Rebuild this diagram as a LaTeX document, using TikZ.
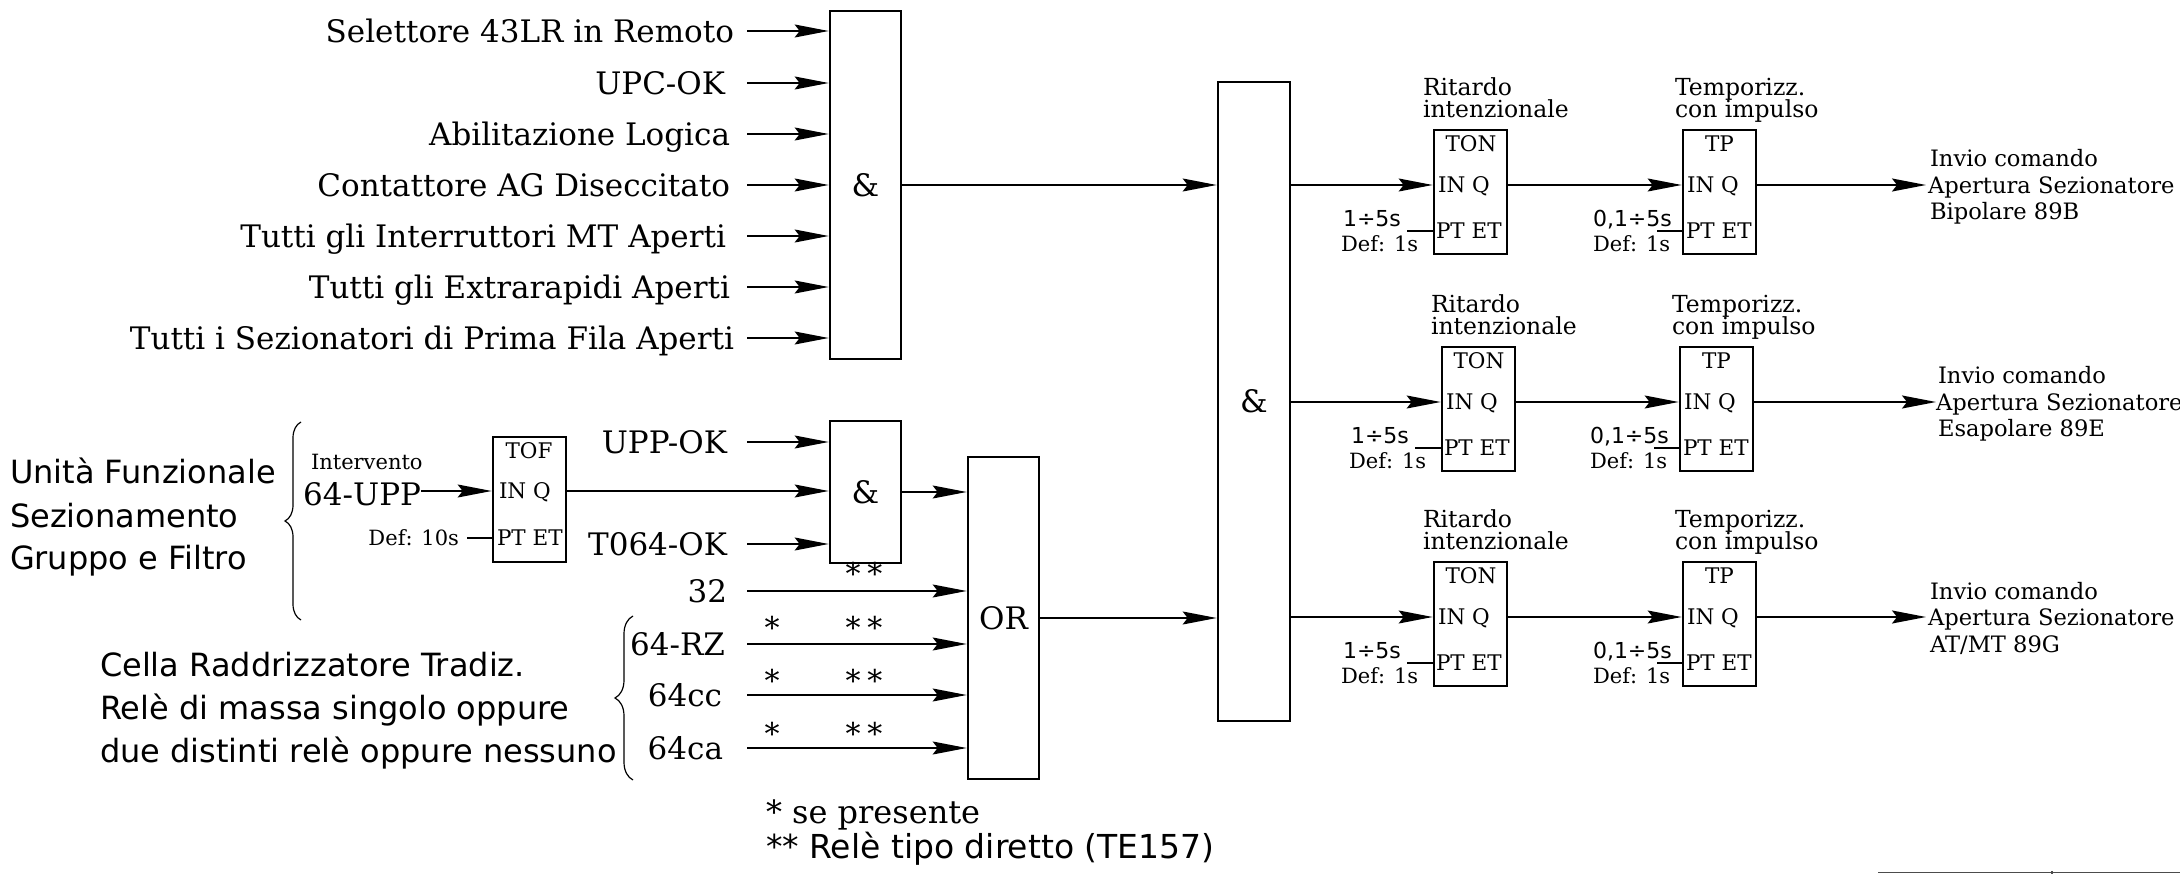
\documentclass[tikz,border=0pt]{standalone}
\usepackage{fontspec}
\setmainfont{DejaVu Serif}
\newfontfamily\dvs{DejaVu Sans}
\usetikzlibrary{arrows.meta,decorations.pathreplacing}

\newcommand\timerrow[7]{%
  % #1 id, #2 arrow y, #3 dx TON, #4 dx TP, #5 third line, #6 dx text, #7 arrow gap
  \node[tbox] (ton#1) at ({1470.5+(#3)},{#2+7}) {};
  \node[T21] (tonl#1) at ({1471+(#3)},{#2-41}) {TON};
  \node[T21, anchor=west] (toni#1) at ({1438+(#3)},{#2}) {IN Q};
  \node[T21, anchor=west] (tonp#1) at ({1436+(#3)},{#2+46}) {PT ET};
  \node[S22, anchor=base west] (tona#1) at ({1343+(#3)},{#2+41.7}) {1÷5s};
  \node[T20, anchor=base west] (tond#1) at ({1341+(#3)},{#2+66.7}) {Def: 1s};
  \node[T23, anchor=base west] (rit#1) at ({1423+(#3)},{#2-89.5}) {Ritardo};
  \node[T23, anchor=base west] (int#1) at ({1423+(#3)},{#2-67.5}) {intenzionale};
  \draw[ln] (ton#1.west |- tonp#1.west) -- ++(-26,0);
  %
  \node[tbox] (tp#1) at ({1719.5+(#4)},{#2+7}) {};
  \node[T21] (tpl#1) at ({1719.5+(#4)},{#2-41}) {TP};
  \node[T21, anchor=west] (tpi#1) at ({1687+(#4)},{#2}) {IN Q};
  \node[T21, anchor=west] (tpp#1) at ({1686+(#4)},{#2+46}) {PT ET};
  \node[S22, anchor=base west] (tpa#1) at ({1593+(#4)},{#2+41.7}) {0,1÷5s};
  \node[T20, anchor=base west] (tpd#1) at ({1593+(#4)},{#2+66.7}) {Def: 1s};
  \node[T23, anchor=base west] (tem#1) at ({1675+(#4)},{#2-89.5}) {Temporizz.};
  \node[T23, anchor=base west] (imp#1) at ({1675+(#4)},{#2-67.5}) {con impulso};
  \draw[ln] (tp#1.west |- tpp#1.west) -- ++(-25,0);
  %
  \node[T22, anchor=west] (ap#1) at ({1928+(#6)},{#2}) {Apertura Sezionatore};
  \node[T22, anchor=base west] (inv#1) at ({1930+(#6)},{#2-18}) {Invio comando};
  \node[T22, anchor=base west] (lst#1) at ({1930+(#6)},{#2+35}) {#5};
  %
  \draw[arr] (g3.east |- toni#1.west) -- (ton#1.west |- toni#1.west);
  \draw[arr] (ton#1.east |- toni#1.west) -- (tp#1.west |- toni#1.west);
  \draw[arr] (tp#1.east |- toni#1.west) -- ([xshift=-#7pt]ap#1.west);
}

\begin{document}
\begin{tikzpicture}[x=1pt,y=-1pt,
  every node/.style={inner sep=0pt, outer sep=0pt},
  gate/.style={draw, line width=2.7pt, minimum width=71pt, outer sep=1.35pt,
               font=\fontsize{31}{37}\selectfont},
  tbox/.style={draw, line width=2.7pt, minimum width=73pt, minimum height=124pt, outer sep=1.35pt},
  ln/.style={line width=1.5pt},
  arr/.style={line width=1.5pt, -{Stealth[length=34pt,width=13pt,inset=5pt]}},
  brc/.style={line width=1.2pt, decorate},
  T30/.style={font=\fontsize{31}{37}\selectfont, text height=22.6pt, text depth=0pt},
  T32/.style={font=\fontsize{32}{38}\selectfont},
  S30/.style={font=\dvs\fontsize{32}{38}\selectfont},
  S32/.style={font=\dvs\fontsize{33}{39}\selectfont},
  T21/.style={font=\fontsize{21.5}{26}\selectfont, text height=15.7pt, text depth=0pt},
  T22/.style={font=\fontsize{22.6}{27}\selectfont, text height=16.5pt, text depth=0pt},
  T23/.style={font=\fontsize{23.5}{28}\selectfont},
  S22/.style={font=\dvs\fontsize{22}{26}\selectfont},
  T20/.style={font=\fontsize{21}{25}\selectfont, text height=15.3pt, text depth=0pt},
  ast/.style={font=\fontsize{30}{36}\selectfont, anchor=base}
]
\useasboundingbox (0,0) rectangle (2180,874);
\coordinate (xs) at (747,0);

% ---------- top AND gate ----------
\node[gate, minimum height=348pt] (g1) at (865.5,185) {\&};
\node[T30, anchor=east] (a1) at (734,31) {Selettore 43LR in Remoto};
\node[T30, anchor=east] (a2) at (725,83) {UPC-OK};
\node[T30, anchor=east] (a3) at (730,134) {Abilitazione Logica};
\node[T30, anchor=east] (a4) at (730,185) {Contattore AG Diseccitato};
\node[T30, anchor=east] (a5) at (726,236) {Tutti gli Interruttori MT Aperti};
\node[T30, anchor=east] (a6) at (730,287) {Tutti gli Extrarapidi Aperti};
\node[T30, anchor=east] (a7) at (734,338) {Tutti i Sezionatori di Prima Fila Aperti};
\foreach \i in {1,...,7} {\draw[arr] (a\i.east -| xs) -- (a\i.east -| g1.west);}

% ---------- UPP block ----------
\node[S30, anchor=base west] (u1) at (10,483) {Unità Funzionale};
\node[S30, anchor=base west] (u2) at (10,527) {Sezionamento};
\node[S30, anchor=base west] (u3) at (10,569) {Gruppo e Filtro};
\draw[brc, decoration={brace, amplitude=16pt}] (301,620) -- (301,422);

\node[tbox, minimum height=125pt] (tof) at (529.5,499.5) {};
\node[T21] (tofl) at (529,451) {TOF};
\node[T21, anchor=west] (tofi) at (499,491) {IN Q};
\node[T21, anchor=west] (tofp) at (497,538) {PT ET};
\node[T20, anchor=base west] (interv) at (311,470) {Intervento};
\node[T30, anchor=base east] (upp) at (421,505) {64-UPP};
\node[T20, anchor=east] (def10) at (459,538) {Def: 10s};
\draw[arr] (upp.east |- tofi.west) -- (tof.west |- tofi.west);
\draw[ln] (tof.west |- tofp.west) -- ++(-25,0);

\node[gate, minimum height=142pt] (g2) at (865.5,492) {\&};
\node[T30, anchor=east] (b1) at (727,442) {UPP-OK};
\node[T30, anchor=east] (b3) at (727,544) {T064-OK};
\draw[arr] (b1.east -| xs) -- (b1.east -| g2.west);
\draw[arr] (b3.east -| xs) -- (b3.east -| g2.west);
\draw[arr] (tof.east |- tofi.west) -- (g2.west |- tofi.west);

% ---------- OR gate ----------
\node[gate, minimum height=322pt] (gor) at (1003.5,618) {OR};
\draw[arr] (g2.east) -- (g2.east -| gor.west);
\node[T30, anchor=east] (c1) at (727,591) {32};
\node[T30, anchor=east] (c2) at (725,644) {64-RZ};
\node[T30, anchor=east] (c3) at (722,695) {64cc};
\node[T30, anchor=east] (c4) at (723,748) {64ca};
\foreach \i in {1,...,4} {\draw[arr] (c\i.east -| xs) -- (c\i.east -| gor.west);}

\node[ast] (s0) at (864,584) {*\kern7pt*};
\node[ast] (s1) at (864,638) {*\kern7pt*};
\node[ast] (s2) at (864,691) {*\kern7pt*};
\node[ast] (s3) at (864,744) {*\kern7pt*};
\node[ast] (p1) at (772,638) {*};
\node[ast] (p2) at (772,691) {*};
\node[ast] (p3) at (772,744) {*};

\node[S30, anchor=base west] (k1) at (100,676) {Cella Raddrizzatore Tradiz.};
\node[S30, anchor=base west] (k2) at (100,719) {Relè di massa singolo oppure};
\node[S30, anchor=base west] (k3) at (100,762) {due distinti relè oppure nessuno};
\draw[brc, decoration={brace, amplitude=18pt}] (633,780) -- (633,616);

\node[T32, anchor=base west] (f1) at (766,823) {* se presente};
\node[S32, anchor=base west] (f2) at (766,858) {** Relè tipo diretto (TE157)};

% ---------- big AND gate ----------
\node[gate, minimum width=72pt, minimum height=639pt] (g3) at (1254,401.5) {\&};
\draw[arr] (g1.east) -- (g1.east -| g3.west);
\draw[arr] (gor.east) -- (gor.east -| g3.west);

% ---------- timer rows ----------
\timerrow{1}{185}{0}{0}{Bipolare 89B}{0}{2}
\timerrow{2}{402}{8}{-3}{Esapolare 89E}{8}{0}
\timerrow{3}{617}{0}{0}{AT/MT 89G}{0}{2}

% ---------- border fragment ----------
\draw[line width=1.2pt, black!70] (1878,872.5) -- (2180,872.5);
\draw[line width=1.2pt, black!70] (2052,871) -- (2052,874);
\end{tikzpicture}
\end{document}
